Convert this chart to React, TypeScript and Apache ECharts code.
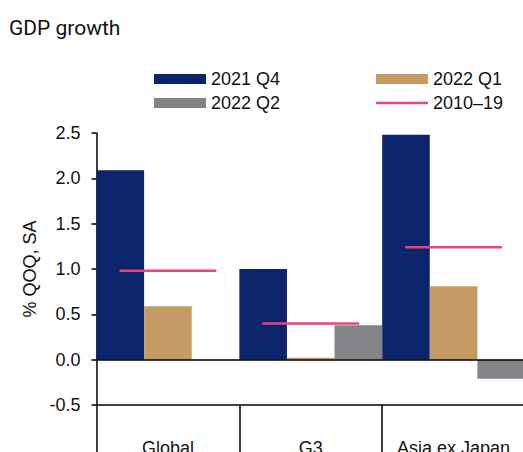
import React, { useEffect, useRef } from "react";
import * as echarts from "echarts";

const categories = ["Global", "G3", "Asia ex Japan"];
const q4_2021 = [2.09, 1.0, 2.48];
const q1_2022 = [0.59, 0.02, 0.81];
const q2_2022 = [0.0, 0.38, -0.21];
const avg2010_19 = [0.98, 0.4, 1.24];
const yTicks = { min: -0.5, max: 2.5, interval: 0.5 };

const NAVY = "#0c246b";
const TAN = "#c39b63";
const GRAY = "#838488";
const PINK = "#e8467a";
const FONT = "'Liberation Sans', Arial, sans-serif";

export default function App() {
  const ref = useRef<HTMLDivElement>(null);
  useEffect(() => {
    if (!ref.current) return;
    const chart = echarts.init(ref.current, undefined, { renderer: "svg" });
    const legendText = { fontFamily: FONT, fontSize: 18, color: "#111", lineHeight: 20 };
    const mkLegend = (name: string, left: number, top: number, icon: string) => ({
      data: [{ name, icon }],
      left,
      top,
      padding: 0,
      itemWidth: 52,
      itemHeight: 10,
      itemGap: 5,
      selectedMode: false,
      symbolKeepAspect: true,
      textStyle: legendText,
    });
    chart.setOption({
      animation: false,
      title: {
        text: "GDP growth",
        left: 9,
        top: 17,
        padding: 0,
        textStyle: { fontFamily: "Roboto, sans-serif", fontSize: 21, fontWeight: "normal", color: "#111", lineHeight: 22 },
      },
      legend: [
        mkLegend("2021 Q4", 154, 69, "rect"),
        mkLegend("2022 Q1", 376, 69, "rect"),
        mkLegend("2022 Q2", 154, 93, "rect"),
        mkLegend("2010–19", 376, 93, "path://M0,0H52V2.5H0Z"),
      ],
      grid: { left: 96.5, right: -2, top: 133, bottom: 47, containLabel: false, outerBoundsMode: "none" },
      xAxis: {
        type: "category",
        data: categories,
        axisLine: { show: true, onZero: false, lineStyle: { color: "#000", width: 1.5 } },
        axisTick: { show: true, length: 60, interval: 0, lineStyle: { color: "#000", width: 1.5 } },
        axisLabel: { margin: 34, interval: 0, hideOverlap: false, fontFamily: FONT, fontSize: 18, color: "#111" },
        splitLine: { show: false },
      },
      yAxis: {
        type: "value",
        min: yTicks.min,
        max: yTicks.max,
        interval: yTicks.interval,
        name: "% QOQ, SA",
        nameLocation: "middle",
        nameGap: 58,
        nameRotate: 90,
        nameTextStyle: { fontFamily: FONT, fontSize: 18, color: "#111" },
        axisLine: { show: true, lineStyle: { color: "#000", width: 1.5 } },
        axisTick: { show: true, length: 5, lineStyle: { color: "#000", width: 1.5 } },
        axisLabel: {
          margin: 16,
          fontFamily: FONT,
          fontSize: 18,
          color: "#111",
          formatter: (v: number) => v.toFixed(1),
        },
        splitLine: { show: false },
      },
      series: [
        {
          name: "2021 Q4",
          type: "bar",
          data: q4_2021,
          itemStyle: { color: NAVY },
          barGap: "0%",
          barCategoryGap: "0%",
          markLine: {
            silent: true,
            symbol: "none",
            label: { show: false },
            lineStyle: { color: "#000", width: 1.5, type: "solid" },
            data: [{ yAxis: 0 }],
          },
        },
        { name: "2022 Q1", type: "bar", data: q1_2022, itemStyle: { color: TAN }, barGap: "0%", barCategoryGap: "0%" },
        { name: "2022 Q2", type: "bar", data: q2_2022, itemStyle: { color: GRAY }, barGap: "0%", barCategoryGap: "0%" },
        {
          name: "2010–19",
          type: "custom",
          z: 10,
          itemStyle: { color: PINK },
          data: avg2010_19.map((v, i) => [i, v]),
          encode: { x: 0, y: 1 },
          renderItem: (params: any, api: any) => {
            const p = api.coord([api.value(0), api.value(1)]);
            const w = api.size([1, 0])[0];
            const half = w / 2.95;
            return {
              type: "line",
              shape: { x1: p[0] - half, y1: p[1], x2: p[0] + half, y2: p[1] },
              style: { stroke: PINK, lineWidth: 2.5 },
            };
          },
        },
      ],
    });
    return () => chart.dispose();
  }, []);
  return (
    <div
      ref={ref}
      style={{ position: "absolute", left: 0, top: 0, width: 523, height: 452, background: "#fff" }}
    />
  );
}
